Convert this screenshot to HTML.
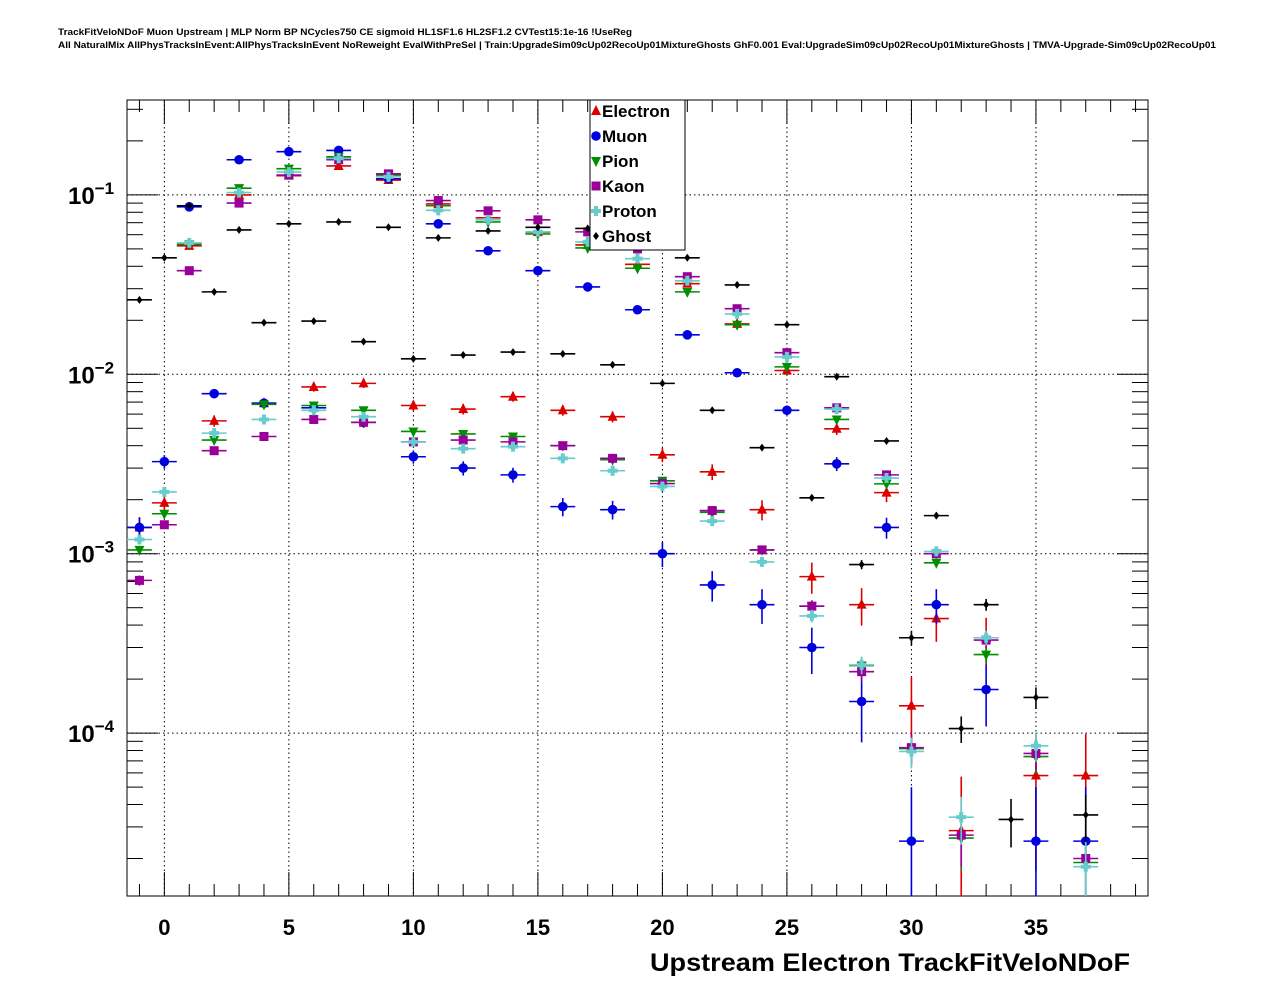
<!DOCTYPE html>
<html><head><meta charset="utf-8"><style>
html,body{margin:0;padding:0;background:#fff;}
svg{display:block;font-family:"Liberation Sans",sans-serif;}
</style></head><body>
<svg id="chart" width="1276" height="996" viewBox="0 0 1276 996" xmlns="http://www.w3.org/2000/svg">
<text x="58" y="35" font-size="9.5" font-weight="bold" textLength="574" lengthAdjust="spacingAndGlyphs">TrackFitVeloNDoF Muon Upstream | MLP Norm BP NCycles750 CE sigmoid HL1SF1.6 HL2SF1.2 CVTest15:1e-16 !UseReg</text>
<text x="58" y="48" font-size="9.5" font-weight="bold" textLength="1158" lengthAdjust="spacingAndGlyphs">All NaturalMix AllPhysTracksInEvent:AllPhysTracksInEvent NoReweight EvalWithPreSel | Train:UpgradeSim09cUp02RecoUp01MixtureGhosts GhF0.001 Eval:UpgradeSim09cUp02RecoUp01MixtureGhosts | TMVA-Upgrade-Sim09cUp02RecoUp01</text>
<g id="grid"></g>
<g id="axes"></g>
<g id="marks"></g>
<text x="650" y="971" font-size="25" font-weight="bold" textLength="480" lengthAdjust="spacingAndGlyphs">Upstream Electron TrackFitVeloNDoF</text>
<g id="legend"></g>
</svg>
<script>
const bins = [-1,0,1,2,3,4,5,6,7,8,9,10,11,12,13,14,15,16,17,18,19,20,21,22,23,24,25,26,27,28,29,30,31,32,33,34,35,36,37];
const seriesNames = ["Electron","Muon","Pion","Kaon","Proton","Ghost"];
const electron = [1.4e-3,1.92e-3,0.052,5.5e-3,0.1,6.9e-3,0.128,8.5e-3,0.145,8.9e-3,0.121,6.7e-3,0.089,6.4e-3,0.0745,7.5e-3,0.062,6.3e-3,0.0526,5.8e-3,0.041,3.56e-3,0.032,2.86e-3,0.0191,1.76e-3,0.0105,7.45e-4,4.97e-3,5.2e-4,2.19e-3,1.42e-4,4.35e-4,2.86e-5,3.4e-4,null,5.8e-5,null,5.8e-5];
const muon = [1.4e-3,3.26e-3,0.0858,7.8e-3,0.157,6.9e-3,0.174,6.5e-3,0.177,5.4e-3,0.123,3.47e-3,0.069,3.0e-3,0.0488,2.75e-3,0.0378,1.83e-3,0.0307,1.76e-3,0.0229,1.0e-3,0.0166,6.7e-4,0.0102,5.2e-4,6.3e-3,3.0e-4,3.17e-3,1.5e-4,1.4e-3,2.5e-5,5.2e-4,null,1.75e-4,null,2.5e-5,null,2.5e-5];
const pion = [1.05e-3,1.67e-3,0.053,4.3e-3,0.109,6.8e-3,0.14,6.7e-3,0.163,6.3e-3,0.129,4.8e-3,0.087,4.65e-3,0.0707,4.5e-3,0.0606,4.0e-3,0.0506,3.34e-3,0.039,2.55e-3,0.0288,1.7e-3,0.0189,1.05e-3,0.011,5.1e-4,5.6e-3,2.38e-4,2.45e-3,8.2e-5,8.9e-4,2.6e-5,2.74e-4,null,7.4e-5,null,1.9e-5];
const kaon = [7.1e-4,1.45e-3,0.0378,3.75e-3,0.09,4.5e-3,0.129,5.6e-3,0.157,5.4e-3,0.131,4.2e-3,0.093,4.3e-3,0.0815,4.2e-3,0.0726,4.0e-3,0.0622,3.4e-3,0.05,2.46e-3,0.035,1.74e-3,0.0232,1.05e-3,0.0132,5.1e-4,6.5e-3,2.2e-4,2.75e-3,8.3e-5,1.0e-3,2.7e-5,3.3e-4,null,7.7e-5,null,2.0e-5];
const proton = [1.2e-3,2.21e-3,0.054,4.7e-3,0.103,5.6e-3,0.134,6.3e-3,0.16,5.8e-3,0.126,4.2e-3,0.082,3.85e-3,0.0726,3.95e-3,0.0622,3.4e-3,0.0547,2.9e-3,0.0441,2.37e-3,0.0332,1.52e-3,0.0217,9.0e-4,0.0125,4.5e-4,6.4e-3,2.4e-4,2.64e-3,7.9e-5,1.03e-3,3.4e-5,3.4e-4,null,8.5e-5,null,1.8e-5];
const ghost = [0.026,0.0446,0.087,0.0288,0.0638,0.0194,0.069,0.0198,0.0707,0.0152,0.066,0.0122,0.0576,0.0128,0.063,0.0133,0.066,0.013,0.065,0.0113,0.055,8.9e-3,0.0446,6.3e-3,0.0315,3.9e-3,0.0189,2.05e-3,9.7e-3,8.7e-4,4.25e-3,3.4e-4,1.63e-3,1.06e-4,5.2e-4,3.3e-5,1.58e-4,null,3.5e-5];
const errScale = [2.9e-5,2.5e-5,3e-6,3e-6,3e-6,3e-6];
const xTicks = [0,5,10,15,20,25,30,35];
const yDecades = [-1,-2,-3,-4];

const X0=127,X1=1148,Y0=100,Y1=896, XMIN=-1.5,XMAX=39.5, LMAX=Math.log10(0.338), LMIN=-4.908;
const sx=v=>X0+(v-XMIN)/(XMAX-XMIN)*(X1-X0);
const sy=v=>Y0+(LMAX-Math.log10(v))/(LMAX-LMIN)*(Y1-Y0);
const NS="http://www.w3.org/2000/svg";
function mk(tag,attrs,parent){const e=document.createElementNS(NS,tag);for(const k in attrs)e.setAttribute(k,attrs[k]);parent.appendChild(e);return e;}
const grid=document.getElementById('grid'),axes=document.getElementById('axes'),marks=document.getElementById('marks'),legend=document.getElementById('legend');

xTicks.forEach(t=>{const l=mk('line',{x1:sx(t),x2:sx(t),y1:Y0,y2:Y1,stroke:'#000','stroke-width':1,'stroke-dasharray':'1.5,3'},grid);

});
yDecades.forEach(d=>{const l=mk('line',{x1:X0,x2:X1,y1:sy(Math.pow(10,d)),y2:sy(Math.pow(10,d)),stroke:'#000','stroke-width':1,'stroke-dasharray':'1.5,3'},grid);

});

const fr=mk('rect',{x:X0,y:Y0,width:X1-X0,height:Y1-Y0,fill:'none',stroke:'#000','stroke-width':1},axes);


for(let t=-1;t<=39;t++){const len=(t%5===0)?24:12;const x=sx(t);
mk('line',{x1:x,x2:x,y1:Y1,y2:Y1-len,stroke:'#000','stroke-width':1},axes);
mk('line',{x1:x,x2:x,y1:Y0,y2:Y0+len,stroke:'#000','stroke-width':1},axes);}
xTicks.forEach(t=>{const tx=mk('text',{x:sx(t),y:935,'font-size':22,'font-weight':'bold','text-anchor':'middle'},axes);tx.textContent=t;

});
for(let d=-5;d<=-1;d++){for(let m=1;m<=9;m++){const v=m*Math.pow(10,d);const y=sy(v);if(y<Y0||y>Y1)continue;const len=m===1?31:16;
mk('line',{x1:X0,x2:X0+len,y1:y,y2:y,stroke:'#000','stroke-width':1},axes);
mk('line',{x1:X1,x2:X1-len,y1:y,y2:y,stroke:'#000','stroke-width':1},axes);}}
yDecades.forEach(d=>{const tx=mk('text',{x:68,y:sy(Math.pow(10,d))+9,'font-size':24,'font-weight':'bold'},axes);


const a=mk('tspan',{},tx);a.textContent='10';const b=mk('tspan',{dy:-10,'font-size':17},tx);b.textContent=String(d).replace('-','\u2212');});

const colors=['#dd0000','#0000dd','#008f00','#990099','#66cccc','#000000'];
const data=[electron,muon,pion,kaon,proton,ghost];
function marker(i,x,y,g){
  const c=colors[i];
  if(i===0) return mk('polygon',{points:`${x},${y-6} ${x-5},${y+4} ${x+5},${y+4}`,fill:c},g);
  if(i===1) return mk('circle',{cx:x,cy:y,r:4.8,fill:c},g);
  if(i===2) return mk('polygon',{points:`${x-5},${y-4} ${x+5},${y-4} ${x},${y+6}`,fill:c},g);
  if(i===3) return mk('rect',{x:x-4.5,y:y-4.5,width:9,height:9,fill:c},g);
  if(i===4) return mk('path',{d:`M${x-2},${y-5}h4v3h3v4h-3v3h-4v-3h-3v-4h3z`,fill:c},g);
  return mk('path',{d:`M${x},${y-4}L${x+3},${y}L${x},${y+4}L${x-3},${y}Z`,fill:c},g);
}
data.forEach((arr,i)=>{
  const g=mk('g',{},marks);
  
  
  arr.forEach((v,k)=>{
    if(v==null) return;
    const x=sx(bins[k]),y=sy(v);
    const rel=Math.min(Math.sqrt(errScale[i]/v),0.999);
    const yTop=sy(v*(1+rel)), yBot=Math.min(Y1,sy(v*(1-rel)));
    const pt=mk('g',{},g);
    
    
    mk('line',{x1:sx(bins[k]-0.5),x2:sx(bins[k]+0.5),y1:y,y2:y,stroke:colors[i],'stroke-width':1.6},pt);
    if(yBot-yTop>3) mk('line',{x1:x,x2:x,y1:Math.max(Y0,yTop),y2:yBot,stroke:colors[i],'stroke-width':1.6},pt);
    marker(i,x,y,pt);
  });
});

const lb=mk('rect',{x:590,y:100,width:95,height:150,fill:'#fff',stroke:'#000','stroke-width':1},legend);


seriesNames.forEach((n,i)=>{
  const y=111+i*25;
  const g=mk('g',{},legend);
  
  
  marker(i,596,y,g);
  const t=mk('text',{x:602,y:y+6,'font-size':17,'font-weight':'bold'},g);t.textContent=n;
});
</script>
</body></html>
